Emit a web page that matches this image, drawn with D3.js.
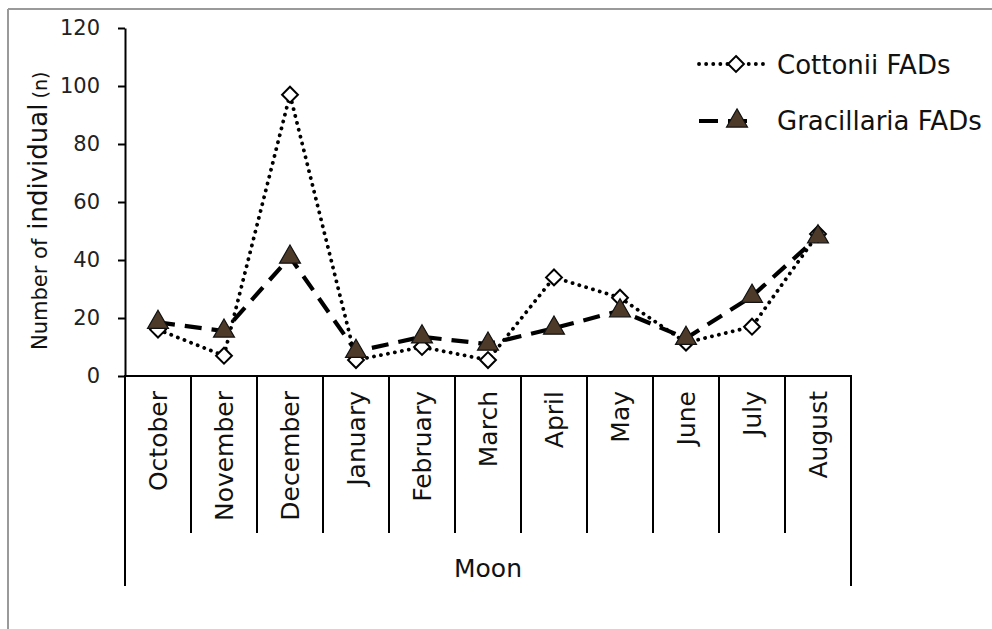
<!DOCTYPE html>
<html>
<head>
<meta charset="utf-8">
<script src="https://cdn.jsdelivr.net/npm/d3@7"></script>
<style>
  html, body { margin: 0; padding: 0; background: #fff; }
  svg { display: block; font-family: "DejaVu Sans", Verdana, sans-serif; }
</style>
</head>
<body>
<svg id="chart" width="992" height="629"></svg>
<script>
const months = ["October","November","December","January","February","March","April","May","June","July","August"];
const cottonii = [16, 7, 97, 5.5, 10, 5.5, 34, 27, 11.5, 17, 49];
const gracillaria = [18.5, 15.5, 41, 8.5, 13.5, 11, 16.5, 22.5, 13, 27.5, 48];
const yTicks = [0, 20, 40, 60, 80, 100, 120];
const seriesNames = ["Cottonii FADs", "Gracillaria FADs"];

const svg = d3.select("#chart");
svg.append("rect").attr("width", 992).attr("height", 629).attr("fill", "#fff");

// frame lines (top and left, grey)
svg.append("line").attr("x1", 8).attr("x2", 992).attr("y1", 9).attr("y2", 9)
  .attr("stroke", "#9a9a9a").attr("stroke-width", 2);
svg.append("line").attr("x1", 8).attr("x2", 8).attr("y1", 9).attr("y2", 629)
  .attr("stroke", "#9a9a9a").attr("stroke-width", 2);

const x = d3.scaleBand().domain(months).range([125, 851]).padding(0);
const y = d3.scaleLinear().domain([0, 120]).range([376, 28]);

// Y axis
const yAxis = svg.append("g").attr("transform", "translate(125,0)")
  .call(d3.axisLeft(y).tickValues(yTicks).tickSize(7).tickPadding(6).tickSizeOuter(0));
yAxis.select(".domain").attr("stroke", "#000").attr("stroke-width", 2);
yAxis.selectAll(".tick line").attr("stroke", "#000").attr("stroke-width", 2);
yAxis.selectAll(".tick text").attr("font-size", 21).attr("fill", "#222")
  .attr("font-family", "DejaVu Sans, sans-serif").attr("x", -25);

// X axis line
svg.append("line").attr("x1", 124).attr("x2", 852).attr("y1", y(0)).attr("y2", y(0))
  .attr("stroke", "#000").attr("stroke-width", 2);

// category dividers
const bounds = months.map(m => x(m)).concat([x(months[months.length - 1]) + x.bandwidth()]);
svg.selectAll(".div").data(bounds).enter().append("line")
  .attr("x1", d => d).attr("x2", d => d)
  .attr("y1", y(0))
  .attr("y2", (d, i) => (i === 0 || i === bounds.length - 1) ? 586 : 533)
  .attr("stroke", "#000").attr("stroke-width", 2);

// month labels
svg.selectAll(".mlab").data(months).enter().append("text")
  .attr("transform", d => `translate(${x(d) + x.bandwidth() / 2},391) rotate(-90)`)
  .attr("text-anchor", "end").attr("dy", "0.36em")
  .attr("font-size", 25).attr("fill", "#111")
  .text(d => d);

// x title
svg.append("text").attr("x", 488).attr("y", 577).attr("text-anchor", "middle")
  .attr("font-size", 25).attr("fill", "#111").text("Moon");

// y title
const yt = svg.append("text").attr("transform", "translate(47,350) rotate(-90)")
  .attr("text-anchor", "start").attr("fill", "#111");
yt.append("tspan").attr("font-size", 21).text("Number of");
yt.append("tspan").attr("font-size", 26).attr("dx", 9).text("individual");
yt.append("tspan").attr("font-size", 19).attr("dx", 5).text("(n)");

// lines
const line = d3.line().x((d, i) => x(months[i]) + x.bandwidth() / 2).y(d => y(d));

svg.append("path").datum(cottonii).attr("d", line)
  .attr("fill", "none").attr("stroke", "#000").attr("stroke-width", 3.8)
  .attr("stroke-linecap", "round").attr("stroke-dasharray", "0.1 7");

svg.append("path").datum(gracillaria).attr("d", line)
  .attr("fill", "none").attr("stroke", "#000").attr("stroke-width", 4.2)
  .attr("stroke-dasharray", "17 10");

const diamond = d3.symbol().type(d3.symbolDiamond2).size(160);
const triangle = d3.symbol().type(d3.symbolTriangle).size(190);

svg.selectAll(".cm").data(cottonii).enter().append("path")
  .attr("d", diamond)
  .attr("transform", (d, i) => `translate(${x(months[i]) + x.bandwidth() / 2},${y(d)})`)
  .attr("fill", "#fff").attr("stroke", "#000").attr("stroke-width", 2);

svg.selectAll(".gm").data(gracillaria).enter().append("path")
  .attr("d", triangle)
  .attr("transform", (d, i) => `translate(${x(months[i]) + x.bandwidth() / 2},${y(d)})`)
  .attr("fill", "#4e3a28").attr("stroke", "#111").attr("stroke-width", 1.2);

// legend
const lg = svg.append("g");
lg.append("line").attr("x1", 699).attr("x2", 768).attr("y1", 64).attr("y2", 64)
  .attr("stroke", "#000").attr("stroke-width", 3.8).attr("stroke-linecap", "round")
  .attr("stroke-dasharray", "0.1 7");
lg.append("path").attr("d", diamond).attr("transform", "translate(736,64)")
  .attr("fill", "#fff").attr("stroke", "#000").attr("stroke-width", 2);
lg.append("text").attr("x", 777).attr("y", 74).attr("font-size", 26).attr("fill", "#111")
  .text(seriesNames[0]);

lg.append("line").attr("x1", 699).attr("x2", 757).attr("y1", 121).attr("y2", 121)
  .attr("stroke", "#000").attr("stroke-width", 4.2).attr("stroke-dasharray", "19 10");
lg.append("path").attr("d", triangle).attr("transform", "translate(737,121)")
  .attr("fill", "#4e3a28").attr("stroke", "#111").attr("stroke-width", 1.2);
lg.append("text").attr("x", 777).attr("y", 130).attr("font-size", 26).attr("fill", "#111")
  .text(seriesNames[1]);
</script>
</body>
</html>
